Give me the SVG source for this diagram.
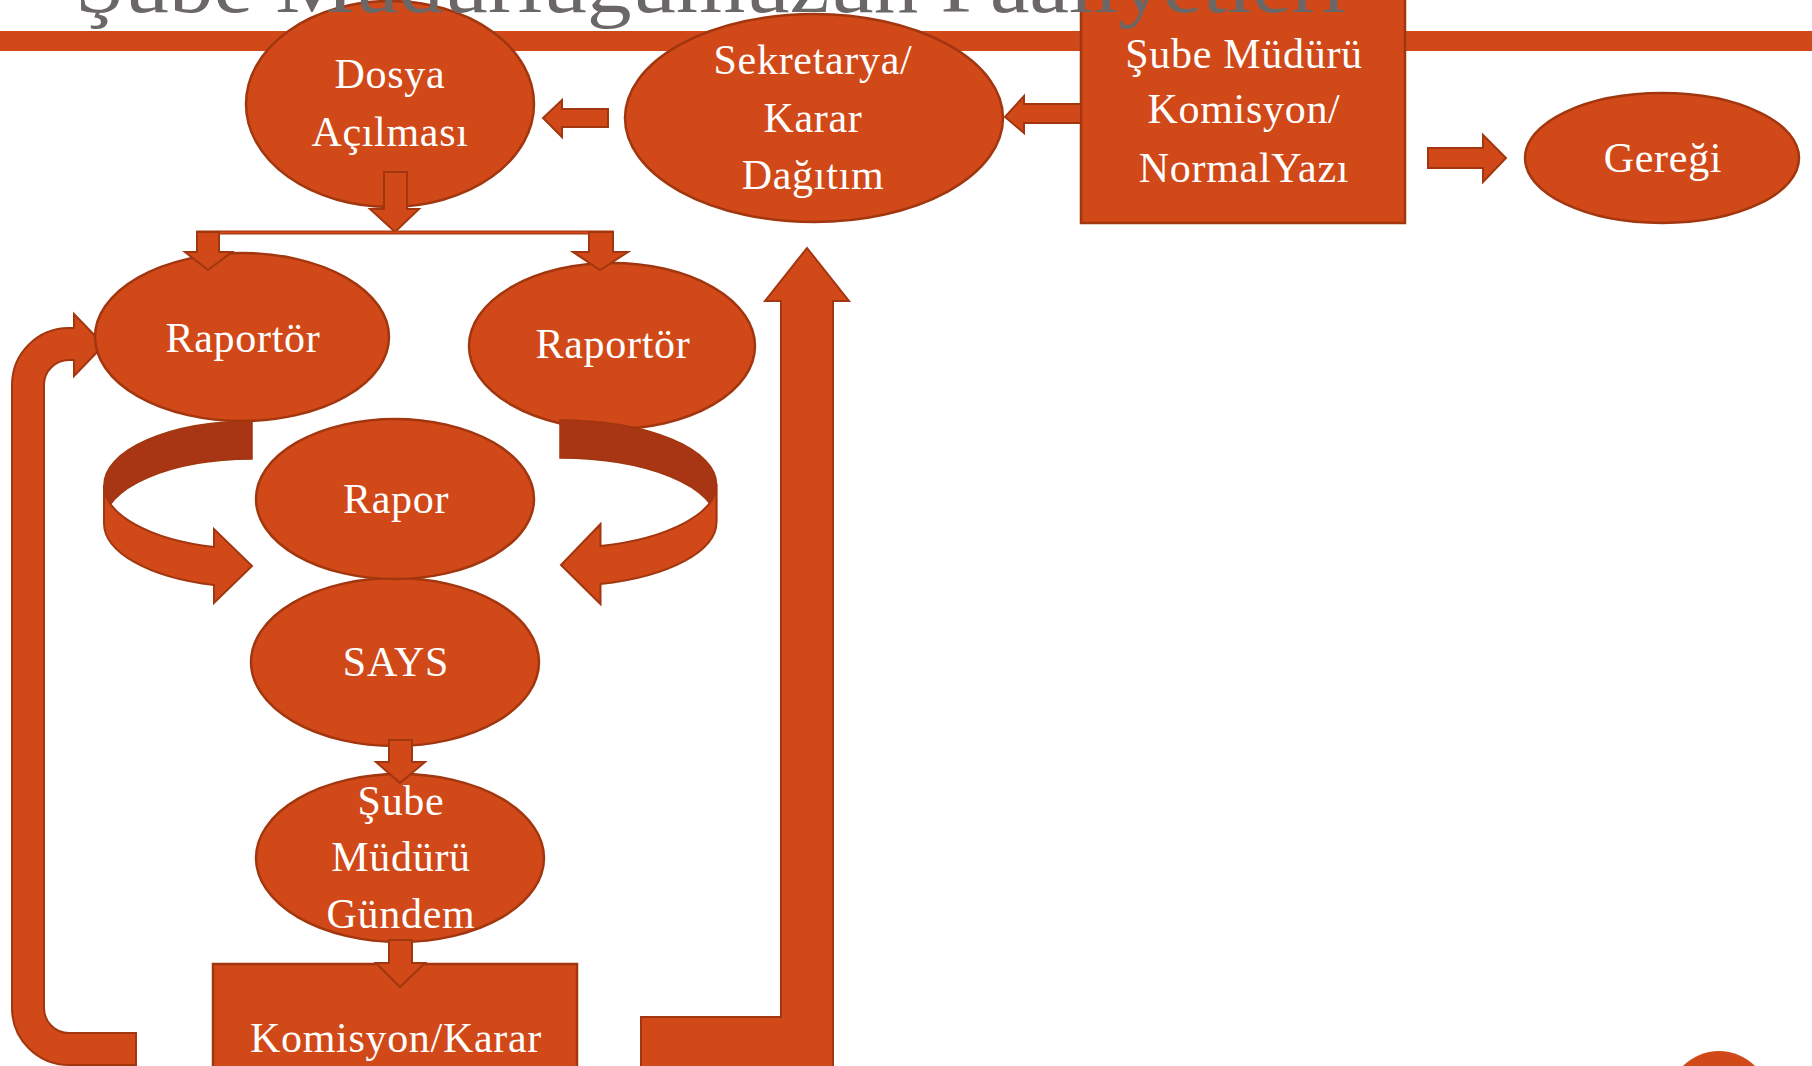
<svg xmlns="http://www.w3.org/2000/svg" width="1812" height="1066" viewBox="0 0 1812 1066">
<style>
.n{fill:#D14918;stroke:#A1360F;stroke-width:2.5}
.a{fill:#D14918;stroke:#A1360F;stroke-width:2}
.d{fill:#A83614;stroke:#A1360F;stroke-width:1.5}
.t{fill:#FFFFFF;font-family:"Liberation Serif","Times New Roman",serif;font-size:42px;letter-spacing:0.7px;text-anchor:middle}
.ttl{fill:#6B6767;font-family:"Liberation Serif","Times New Roman",serif;font-size:80px}
</style>
<rect x="0" y="0" width="1812" height="1066" fill="#FFFFFF"/>
<rect x="0" y="31" width="1812" height="20" fill="#D14918"/>
<g id="connectors">
<path class="a" d="M641,1017 L781,1017 L781,301 L765,301 L807,248 L849,301 L833,301 L833,1070 L641,1070 Z"/>
<path class="a" d="M136,1065 L69,1065 A57,57 0 0 1 12,1008 L12,385 A57,57 0 0 1 69,328 L74,328 L74,314 L104,345 L74,376 L74,360 L69,360 A25,25 0 0 0 44,385 L44,1008 A25,25 0 0 0 69,1033 L136,1033 Z"/>
</g>
<g id="n-dosya"><ellipse class="n" cx="390" cy="104" rx="144" ry="103"/><text class="t" x="390" y="88">Dosya</text><text class="t" x="390" y="146">Açılması</text></g>
<g id="n-sekretarya"><ellipse class="n" cx="814" cy="118" rx="189" ry="104"/><text class="t" x="813" y="74">Sekretarya/</text><text class="t" x="813" y="132">Karar</text><text class="t" x="813" y="189">Dağıtım</text></g>
<g id="n-subekomisyon"><rect class="n" x="1081" y="-3" width="324" height="226"/><text class="t" x="1244" y="68">Şube Müdürü</text><text class="t" x="1244" y="123">Komisyon/</text><text class="t" x="1244" y="182">NormalYazı</text></g>
<g id="n-geregi"><ellipse class="n" cx="1662" cy="158" rx="137" ry="65"/><text class="t" x="1663" y="172">Gereği</text></g>
<g id="n-raportor1"><ellipse class="n" cx="242" cy="337" rx="147" ry="84"/><text class="t" x="243" y="352">Raportör</text></g>
<g id="n-raportor2"><ellipse class="n" cx="612" cy="346" rx="143" ry="83"/><text class="t" x="613" y="358">Raportör</text></g>
<g id="n-says"><ellipse class="n" cx="395" cy="662" rx="144" ry="84"/><text class="t" x="396" y="676">SAYS</text></g>
<g id="n-rapor"><ellipse class="n" cx="395" cy="499" rx="139" ry="80"/><text class="t" x="396" y="513">Rapor</text></g>
<g id="n-gundem"><ellipse class="n" cx="400" cy="858" rx="144" ry="84"/><text class="t" x="401" y="815">Şube</text><text class="t" x="401" y="871">Müdürü</text><text class="t" x="401" y="928">Gündem</text></g>
<g id="n-komisyonkarar"><rect class="n" x="213" y="964" width="364" height="110"/><text class="t" x="396" y="1052">Komisyon/Karar</text></g>
<g id="connectors-2">
<path class="a" d="M1081,104 L1024,104 L1024,96 L1005,117 L1024,133 L1024,123 L1081,123 Z"/>
<path class="a" d="M608,109 L562,109 L562,100 L543,118 L562,137 L562,127 L608,127 Z"/>
<path class="a" d="M1428,148 L1483,148 L1483,135 L1506,158 L1483,182 L1483,168 L1428,168 Z"/>
<path class="a" d="M384,172 L407,172 L407,209 L419,209 L395,232 L370,209 L384,209 Z"/>
<rect x="197" y="231" width="416" height="3" fill="#D14918" stroke="#A1360F" stroke-width="1"/>
<path class="a" d="M197,232 L219,232 L219,252 L232,252 L208,270 L185,252 L197,252 Z"/>
<path class="a" d="M589,232 L613,232 L613,252 L628,252 L600,270 L573,252 L589,252 Z"/>
<path class="d" d="M252,421 A148,64 0 0 0 104,485 L104,523 A148,64 0 0 1 252,459 Z"/>
<path class="a" d="M104,485 A148,64 0 0 0 214,547 L214,529 L252,566 L214,603 L214,585 A148,64 0 0 1 104,523 Z"/>
<path class="d" d="M560,420 A156.5,64 0 0 1 716.5,484 L716.5,522 A156.5,64 0 0 0 560,458 Z"/>
<path class="a" d="M716.5,484 A156.5,64 0 0 1 600.5,546 L600.5,524 L561,565 L600.5,604 L600.5,584 A156.5,64 0 0 0 716.5,522 Z"/>
<path class="a" d="M389,740 L412,740 L412,762 L425,762 L400,783 L376,762 L389,762 Z"/>
<path class="a" d="M389,940 L412,940 L412,963 L425,963 L400,987 L376,963 L389,963 Z"/>
</g>
<circle cx="1719" cy="1102" r="51" fill="#D14918"/>
<text class="ttl" x="75" y="12" textLength="1271" lengthAdjust="spacingAndGlyphs">Şube Müdürlüğümüzün Faaliyetleri</text>
</svg>
